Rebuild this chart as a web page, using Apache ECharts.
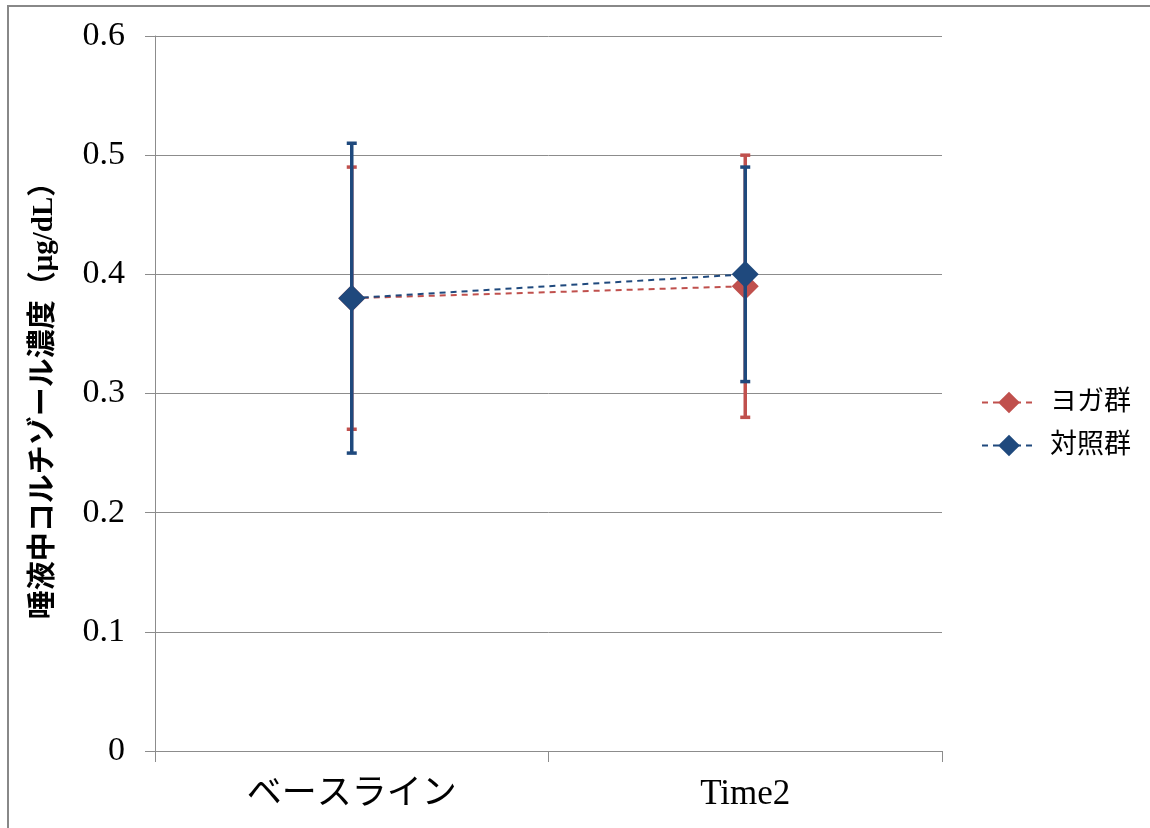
<!DOCTYPE html>
<html>
<head>
<meta charset="utf-8">
<script src="https://cdn.jsdelivr.net/npm/echarts@6/dist/echarts.min.js"></script>
<style>
  html, body { margin: 0; padding: 0; background: #fff; }
  #chart { width: 1150px; height: 828px; }
</style>
</head>
<body>
<div id="chart"></div>
<script>
// Time points
const categories = ['ベースライン', 'Time2'];
const seriesNames = ['ヨガ群', '対照群'];

// Mean salivary cortisol (μg/dL)
const yogaMean = [0.38, 0.39];
const controlMean = [0.38, 0.40];

// Error bar ends (low, high)
const yogaLow = [0.27, 0.28];
const yogaHigh = [0.49, 0.50];
const controlLow = [0.25, 0.31];
const controlHigh = [0.51, 0.49];

const yAxisName = '唾液中コルチゾール濃度（μg/dL）';

const RED = '#C0504D';
const BLUE = '#1F497D';
const SERIF = '"Liberation Serif", "Noto Sans CJK JP", serif';

function errorData(low, high) {
  return categories.map((c, i) => [i, low[i], high[i]]);
}

function errorSeries(name, low, high, color, z) {
  return {
    type: 'custom',
    name: name + '_err',
    z: z,
    silent: true,
    data: errorData(low, high),
    encode: { x: 0, y: [1, 2] },
    renderItem: function (params, api) {
      const x = api.value(0);
      const top = api.coord([x, api.value(2)]);
      const bottom = api.coord([x, api.value(1)]);
      const cap = 5;
      const style = { stroke: color, lineWidth: 3.5 };
      return {
        type: 'group',
        children: [
          { type: 'line', shape: { x1: top[0], y1: top[1], x2: bottom[0], y2: bottom[1] }, style: style },
          { type: 'line', shape: { x1: top[0] - cap, y1: top[1], x2: top[0] + cap, y2: top[1] }, style: style },
          { type: 'line', shape: { x1: bottom[0] - cap, y1: bottom[1], x2: bottom[0] + cap, y2: bottom[1] }, style: style }
        ]
      };
    }
  };
}

function lineSeries(name, values, color, z) {
  return {
    type: 'line',
    name: name,
    z: z,
    data: values,
    symbol: 'diamond',
    symbolSize: 27,
    itemStyle: { color: color },
    lineStyle: { color: color, width: 2, type: [6, 5] },
    emphasis: { disabled: true }
  };
}

const chart = echarts.init(document.getElementById('chart'), null, { renderer: 'canvas' });

chart.setOption({
  animation: false,
  backgroundColor: '#fff',
  grid: { left: 155, right: 208, top: 36, bottom: 77, containLabel: false },
  legend: {
    data: seriesNames,
    orient: 'vertical',
    left: 976,
    top: 384,
    itemWidth: 54,
    itemHeight: 27,
    itemGap: 16,
    textStyle: { fontSize: 27, color: '#000', fontFamily: SERIF, padding: [0, 0, 0, 9] }
  },
  xAxis: {
    type: 'category',
    data: categories,
    axisLine: { lineStyle: { color: '#8c8c8c', width: 1 } },
    axisTick: { show: true, length: 11, lineStyle: { color: '#8c8c8c' } },
    axisLabel: { fontSize: 35, color: '#000', fontFamily: SERIF, margin: 26 },
    splitLine: { show: false }
  },
  yAxis: {
    type: 'value',
    min: 0,
    max: 0.6,
    interval: 0.1,
    name: yAxisName,
    nameLocation: 'middle',
    nameGap: 96,
    nameRotate: 90,
    nameTextStyle: { fontSize: 29, fontWeight: 'bold', color: '#000', fontFamily: SERIF },
    axisLine: { show: true, lineStyle: { color: '#8c8c8c', width: 1 } },
    axisTick: { show: true, length: 10, lineStyle: { color: '#8c8c8c' } },
    axisLabel: { fontSize: 34, color: '#000', fontFamily: SERIF, margin: 30 },
    splitLine: { lineStyle: { color: '#8c8c8c', width: 1 } }
  },
  graphic: [
    { type: 'line', shape: { x1: 7, y1: 6, x2: 1150, y2: 6 }, style: { stroke: '#888', lineWidth: 2 }, silent: true },
    { type: 'line', shape: { x1: 8, y1: 5, x2: 8, y2: 828 }, style: { stroke: '#888', lineWidth: 2 }, silent: true }
  ],
  series: [
    errorSeries(seriesNames[0], yogaLow, yogaHigh, RED, 2),
    lineSeries(seriesNames[0], yogaMean, RED, 3),
    errorSeries(seriesNames[1], controlLow, controlHigh, BLUE, 4),
    lineSeries(seriesNames[1], controlMean, BLUE, 5)
  ]
});
</script>
</body>
</html>
